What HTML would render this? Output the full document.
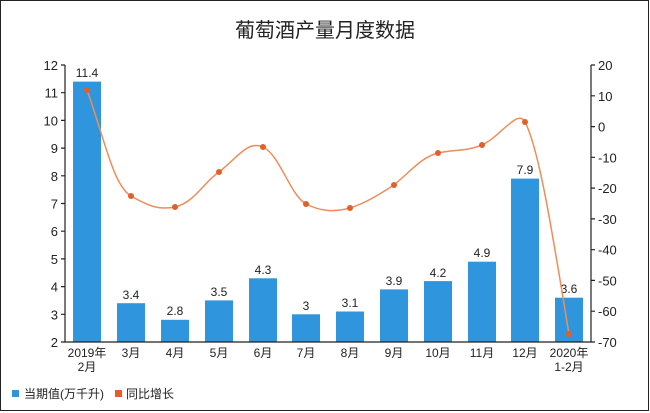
<!DOCTYPE html>
<html><head><meta charset="utf-8"><style>
body{margin:0;background:#fff;}
svg{display:block;font-family:"Liberation Sans","Noto Sans CJK SC",sans-serif;}
</style></head><body>
<svg width="650" height="413" viewBox="0 0 650 413">
<rect x="0.5" y="0.5" width="648" height="410" fill="#fff" stroke="#222" stroke-width="1"/>
<text x="325" y="37" font-size="20" text-anchor="middle" fill="#222">葡萄酒产量月度数据</text>
<g fill="#2f95dd">
<rect x="73" y="81.6" width="28" height="260.4"/>
<rect x="117" y="303.2" width="28" height="38.8"/>
<rect x="161" y="319.8" width="28" height="22.2"/>
<rect x="205" y="300.4" width="28" height="41.6"/>
<rect x="249" y="278.3" width="28" height="63.7"/>
<rect x="292" y="314.3" width="28" height="27.7"/>
<rect x="336" y="311.5" width="28" height="30.5"/>
<rect x="380" y="289.4" width="28" height="52.6"/>
<rect x="424" y="281.1" width="28" height="60.9"/>
<rect x="468" y="261.7" width="28" height="80.3"/>
<rect x="511" y="178.6" width="28" height="163.4"/>
<rect x="555" y="297.7" width="28" height="44.3"/>
</g>
<g font-size="12" fill="#222" text-anchor="middle">
<text x="87" y="77">11.4</text><text x="131" y="299">3.4</text><text x="175" y="315">2.8</text>
<text x="219" y="296">3.5</text><text x="263" y="274">4.3</text><text x="306" y="310">3</text>
<text x="350" y="307">3.1</text><text x="394" y="285">3.9</text><text x="438" y="277">4.2</text>
<text x="482" y="257">4.9</text><text x="525" y="174">7.9</text><text x="569" y="293">3.6</text>
</g>
<path d="M87,90 C105,140 113,185 131,196 C150,207 160,210 175,207 C195,202 203,183 219,172 C237,158 248,140 263,147 C280,155 290,195 306,204 C322,212 335,212 350,208 C368,202 378,195 394,185 C412,170 422,157 438,153 C455,149 465,152 482,145 C500,137 518,108 525,122 C540,150 555,250 569,334" fill="none" stroke="#ed8d5a" stroke-width="1.5"/>
<g fill="#e0602a">
<circle cx="87" cy="90" r="3"/><circle cx="131" cy="196" r="3"/><circle cx="175" cy="207" r="3"/>
<circle cx="219" cy="172" r="3"/><circle cx="263" cy="147" r="3"/><circle cx="306" cy="204" r="3"/>
<circle cx="350" cy="208" r="3"/><circle cx="394" cy="185" r="3"/><circle cx="438" cy="153" r="3"/>
<circle cx="482" cy="145" r="3"/><circle cx="525" cy="122" r="3"/><circle cx="569" cy="334" r="3"/>
</g>
<g stroke="#222" stroke-width="1.2" fill="none">
<path d="M65,65 V342 H591 V65"/>
<path d="M61,65h4M61,92.7h4M61,120.4h4M61,148.1h4M61,175.8h4M61,203.5h4M61,231.2h4M61,258.9h4M61,286.6h4M61,314.3h4M61,342h4"/>
<path d="M591,65h4M591,95.8h4M591,126.6h4M591,157.3h4M591,188.1h4M591,218.9h4M591,249.7h4M591,280.4h4M591,311.2h4M591,342h4"/>
</g>
<g font-size="13" fill="#222" text-anchor="end">
<text x="58" y="70">12</text><text x="58" y="97.7">11</text><text x="58" y="125.4">10</text>
<text x="58" y="153.1">9</text><text x="58" y="180.8">8</text><text x="58" y="208.5">7</text>
<text x="58" y="236.2">6</text><text x="58" y="263.9">5</text><text x="58" y="291.6">4</text>
<text x="58" y="319.3">3</text><text x="58" y="347">2</text>
</g>
<g font-size="13" fill="#222" text-anchor="start">
<text x="598" y="70">20</text><text x="598" y="100.8">10</text><text x="598" y="131.6">0</text>
<text x="598" y="162.3">-10</text><text x="598" y="193.1">-20</text><text x="598" y="223.9">-30</text>
<text x="598" y="254.7">-40</text><text x="598" y="285.4">-50</text><text x="598" y="316.2">-60</text>
<text x="598" y="347">-70</text>
</g>
<g font-size="12" fill="#222" text-anchor="middle">
<text x="87" y="357">2019年</text><text x="87" y="371">2月</text>
<text x="131" y="357">3月</text><text x="175" y="357">4月</text><text x="219" y="357">5月</text>
<text x="263" y="357">6月</text><text x="306" y="357">7月</text><text x="350" y="357">8月</text>
<text x="394" y="357">9月</text><text x="438" y="357">10月</text><text x="482" y="357">11月</text>
<text x="525" y="357">12月</text><text x="569" y="357">2020年</text><text x="569" y="371">1-2月</text>
</g>
<rect x="12" y="390" width="7" height="7" fill="#2f95dd"/>
<text x="24" y="398" font-size="12" fill="#222">当期值(万千升)</text>
<rect x="115" y="390" width="7" height="7" fill="#e0602a"/>
<text x="126" y="398" font-size="12" fill="#222">同比增长</text>
</svg>
</body></html>
